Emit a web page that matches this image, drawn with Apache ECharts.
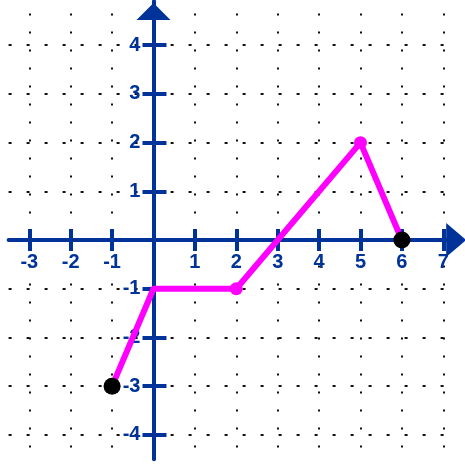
<!DOCTYPE html>
<html>
<head>
<meta charset="utf-8">
<title>piecewise graph</title>
<script src="https://cdn.jsdelivr.net/npm/echarts@6/dist/echarts.min.js"></script>
<style>
  html, body { margin: 0; padding: 0; background: #fff; }
  #chart { width: 465px; height: 464px; }
</style>
</head>
<body>
<div id="chart"></div>
<script>
// grid values
var xTicks = [-3, -2, -1, 0, 1, 2, 3, 4, 5, 6, 7]
var yTicks = [-4, -3, -2, -1, 0, 1, 2, 3, 4]
var xLabels = [-3, -2, -1, 1, 2, 3, 4, 5, 6, 7]
var yLabels = [-4, -3, -2, -1, 1, 2, 3, 4]

// the graph: corners of the polyline
var pathX = [-1, 0, 2, 5, 6]
var pathY = [-3, -1, -1, 2, 0]
// closed end points (black) and corner dots (magenta)
var closedPts = [[-1, -3], [6, 0]]
var cornerPts = [[2, -1], [5, 2]]

var BLUE = '#00339a'
var PINK = '#ff00ff'

// plot box
var X_MIN = -3.5, X_MAX = 7.3
var Y_MIN = -4.5, Y_MAX = 4.9
var GRID = { left: 8.6, top: 1.4, width: 447.1, height: 457.8 }

// shift the axes from the grid edge onto x = 0 / y = 0
var xAxisShift = -(0 - Y_MIN) * GRID.height / (Y_MAX - Y_MIN)
var yAxisShift = -(0 - X_MIN) * GRID.width / (X_MAX - X_MIN)

var chart = echarts.init(document.getElementById('chart'))

function pathData() {
  return pathX.map(function (x, i) { return [x, pathY[i]] })
}

var labelFont = {
  color: BLUE,
  fontSize: 20,
  fontWeight: 'bold',
  fontFamily: 'Liberation Sans, Arial, sans-serif'
}

// axis 0 draws line, arrow, labels and the outer half of each tick;
// axis 1 only draws the inner half, so the ticks cross the axis
function makeX(main) {
  return {
    type: 'value',
    min: X_MIN,
    max: X_MAX,
    position: 'bottom',
    offset: xAxisShift,
    axisLine: {
      show: main,
      onZero: false,
      symbol: ['none', 'triangle'],
      symbolSize: [34, 20],
      symbolOffset: [0, 0.5],
      lineStyle: { color: BLUE, width: 4 }
    },
    axisTick: {
      show: true,
      customValues: xTicks.filter(function (v) { return v !== 0 }),
      length: 11,
      inside: !main,
      lineStyle: { color: BLUE, width: 4 }
    },
    axisLabel: Object.assign({
      show: main,
      customValues: xLabels,
      margin: 12
    }, labelFont),
    splitLine: {
      show: main,
      lineStyle: { color: '#111', width: 2, type: [2, 16], dashOffset: 6 }
    }
  }
}

function makeY(main) {
  return {
    type: 'value',
    min: Y_MIN,
    max: Y_MAX,
    position: 'left',
    offset: yAxisShift,
    axisLine: {
      show: main,
      onZero: false,
      symbol: ['none', 'triangle'],
      symbolSize: [34, 17],
      symbolOffset: [0, -10.1],
      lineStyle: { color: BLUE, width: 4 }
    },
    axisTick: {
      show: true,
      customValues: yTicks.filter(function (v) { return v !== 0 }),
      length: main ? 11 : 13,
      inside: !main,
      lineStyle: { color: BLUE, width: 4 }
    },
    axisLabel: Object.assign({
      show: main,
      customValues: yLabels,
      margin: 13
    }, labelFont),
    splitLine: {
      show: main,
      lineStyle: { color: '#111', width: 2, type: [3, 15], dashOffset: 0 }
    }
  }
}

var option = {
  animation: false,
  backgroundColor: '#fff',
  grid: {
    left: GRID.left,
    top: GRID.top,
    width: GRID.width,
    height: GRID.height,
    containLabel: false,
    outerBoundsMode: 'none'
  },
  xAxis: [makeX(true), makeX(false)],
  yAxis: [makeY(true), makeY(false)],
  series: [
    {
      type: 'line',
      data: pathData(),
      symbol: 'none',
      lineStyle: { color: PINK, width: 6, cap: 'round', join: 'round' },
      z: 5
    },
    {
      type: 'scatter',
      data: cornerPts,
      symbolSize: 13,
      itemStyle: { color: PINK, opacity: 1 },
      z: 6
    },
    {
      type: 'scatter',
      data: closedPts,
      symbolSize: 17,
      itemStyle: { color: '#000', opacity: 1 },
      z: 7
    }
  ]
}

chart.setOption(option)
</script>
</body>
</html>
